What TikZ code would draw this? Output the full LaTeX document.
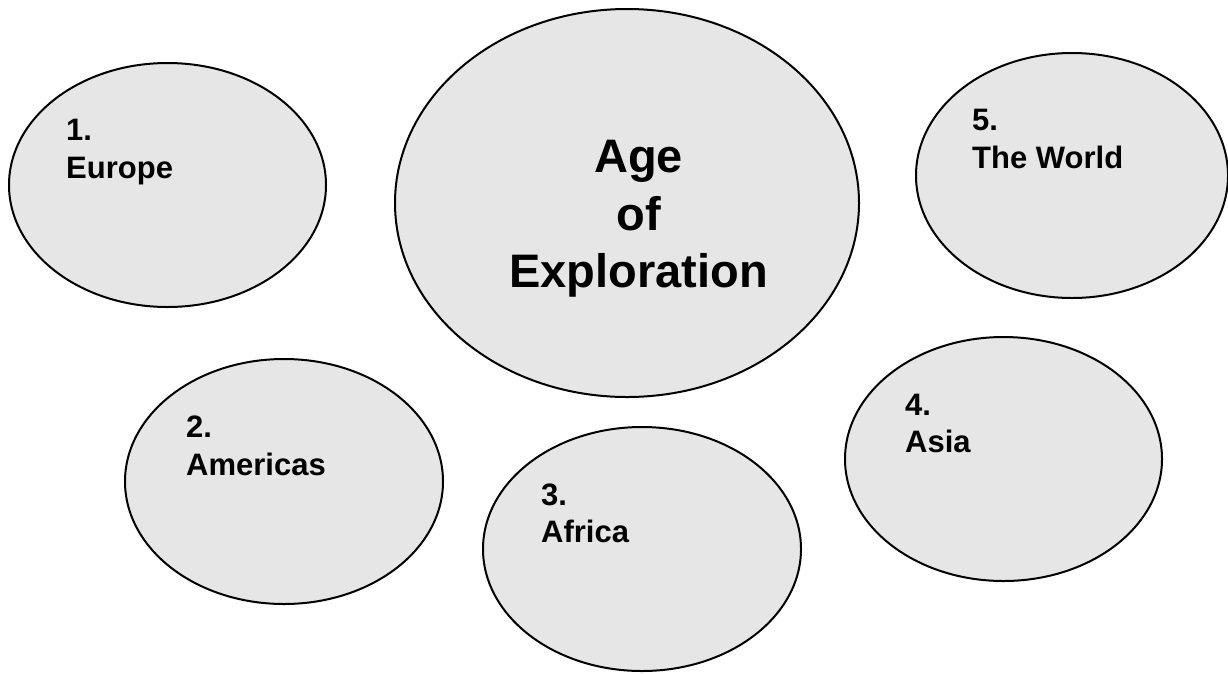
\documentclass[tikz,border=0pt]{standalone}
\usepackage{fontspec}
\setmainfont{Liberation Sans}
\usetikzlibrary{shapes.geometric}
\definecolor{bubblefill}{RGB}{230,230,230}
\tikzset{
  bubble/.style={ellipse, draw=black, line width=2pt, fill=bubblefill, inner sep=0pt},
  small/.style={bubble, minimum width=317pt, minimum height=244pt},
  lbl/.style={inner sep=0pt, anchor=base west, font=\fontsize{31}{38}\selectfont\bfseries},
  biglbl/.style={inner sep=0pt, anchor=base, font=\fontsize{47}{58}\selectfont\bfseries}
}
\begin{document}
\begin{tikzpicture}[x=1pt,y=1pt]
\useasboundingbox (0,0) rectangle (1228,-673);
\fill[white] (0,0) rectangle (1228,-673);
% ellipses
\node[small] (eu) at (167.5,-185) {};
\node[bubble, minimum width=464pt, minimum height=388pt] (age) at (627,-203) {};
\node[bubble, minimum width=312pt, minimum height=245pt] (wo) at (1072,-175.5) {};
\node[small, minimum width=318pt, minimum height=245pt] (am) at (284,-481.5) {};
\node[small, minimum width=318pt] (af) at (642,-549) {};
\node[small] (as) at (1003.5,-459) {};
% labels
\node[lbl] (eu1) at (66,-140) {1.};
\node[lbl] (eu2) at (66,-178) {Europe};
\node[biglbl] (age1) at (638.5,-172) {Age};
\node[biglbl] (age2) at (638.5,-230) {of};
\node[biglbl] (age3) at (638.5,-287) {Exploration};
\node[lbl] (wo1) at (972,-130) {5.};
\node[lbl] (wo2) at (972,-168) {The World};
\node[lbl] (am1) at (186,-437) {2.};
\node[lbl] (am2) at (186,-475) {Americas};
\node[lbl] (af1) at (541,-505) {3.};
\node[lbl] (af2) at (541,-542) {Africa};
\node[lbl] (as1) at (905,-415) {4.};
\node[lbl] (as2) at (905,-452) {Asia};
\end{tikzpicture}
\end{document}
